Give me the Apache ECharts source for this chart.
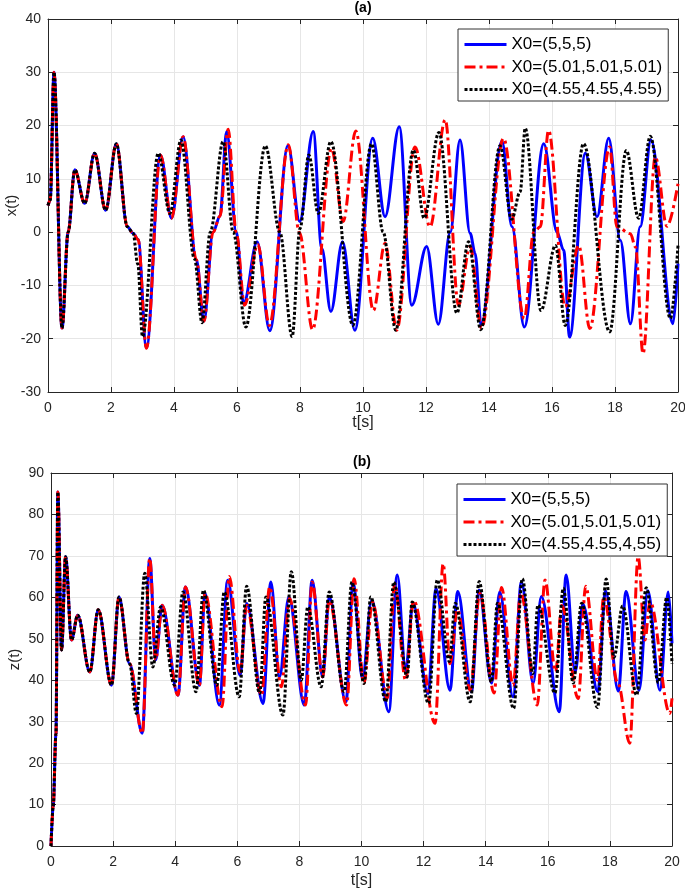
<!DOCTYPE html>
<html>
<head>
<meta charset="utf-8">
<script src="https://cdn.jsdelivr.net/npm/echarts@6/dist/echarts.min.js"></script>
<style>
  html, body { margin: 0; padding: 0; background: #fff; }
  #chart-container { width: 685px; height: 892px; }
</style>
</head>
<body>
<div id="chart-container"></div>
<script>
// tick labels / ranges
const tTicks = [0, 2, 4, 6, 8, 10, 12, 14, 16, 18, 20];
const xRange = [-30, 40];
const zRange = [0, 90];

const names = ["X0=(5,5,5)", "X0=(5.01,5.01,5.01)", "X0=(4.55,4.55,4.55)"];
const namesZ = ["X0=(5,5,5)", "X0=(5.01,5.01,5.01)", "X0=(4.55,4.55,4,55)"];

// (a) x(t) as [t, x]
const xCommon = [
  [0, 5], [0.07, 6], [0.19, 30], [0.445, -18], [0.64, 0], [0.85, 11.7],
  [1.165, 5.4], [1.48, 14.8], [1.83, 4.1], [2.17, 16.6], [2.52, 1], [2.7, -0.2],
];
const xBlue = xCommon.concat([
  [2.86, -1.4], [3.125, -21.7], [3.57, 14.5], [3.92, 2.6], [4.29, 17.9],
  [4.71, -5.2], [4.95, -16.7], [5.24, 0], [5.46, 3], [5.67, 18.9], [5.98, 0],
  [6.21, -13.4], [6.64, -1.8], [7.04, -18.5], [7.62, 16.2], [7.99, 2], [8.42, 18.9],
  [8.69, -3], [8.98, -14.9], [9.35, -1.8], [9.74, -18.4], [10.31, 17.6], [10.7, 2.9],
  [11.15, 19.8], [11.55, -13.7], [12.02, -2.7], [12.39, -17.3], [12.77, 0], [13.08, 17.3],
  [13.4, -0.2], [13.56, -4], [13.75, -17.5], [14.41, 17.1], [14.73, 1], [15.12, -17.8],
  [15.74, 16.6], [16.16, 0], [16.37, -3.4], [16.56, -19.7], [17.06, 14.8], [17.43, 2.9],
  [17.8, 17.6], [18.17, -1.5], [18.49, -17.2], [18.8, 1], [19.14, 17.3], [19.84, -17.2],
  [20, -5.9],
]);
const xRed = xCommon.concat([
  [2.86, -1.4], [3.125, -21.8], [3.57, 14.5], [3.92, 2.6], [4.29, 17.9],
  [4.71, -5.2], [4.95, -16.7], [5.24, 0], [5.46, 3], [5.72, 19.3], [5.98, -0.3],
  [6.24, -13.7], [6.66, -2.3], [7.03, -17.5], [7.63, 16.4], [7.98, 0], [8.4, -18.3],
  [9.0, 15.7], [9.37, 2], [9.77, 19], [10.33, -14.7], [10.7, -2.1], [11.07, -18.4],
  [11.65, 16], [12.13, 1], [12.61, 21.1], [13.03, -13.7], [13.4, -2.7], [13.76, -18],
  [14.46, 17.6], [15.12, -16.2], [15.42, 0], [15.63, 1], [15.89, 19.1], [16.42, -14],
  [16.85, -2.5], [17.2, -18.1], [17.83, 16], [18.06, 1], [18.49, -0.3], [18.65, -2.8],
  [18.89, -22.8], [19.28, 14.1], [19.65, 1.1], [20, 9.1],
]);
const xBlack = xCommon.concat([
  [2.85, -6], [3.0, -19.6], [3.5, 14.8], [3.87, 3.5], [4.22, 17.3], [4.65, -5],
  [4.89, -17], [5.15, 0], [5.56, 17], [5.88, 0], [6.28, -17.8], [6.9, 16.2],
  [7.36, 0], [7.75, -19.6], [8.0, 0.7], [8.28, 14.5], [8.58, 3.5], [8.98, 17],
  [9.68, -17.5], [10.27, 16.6], [10.64, 0], [11.04, -18.4], [11.6, 15.4], [11.94, 2.6],
  [12.41, 18.7], [12.98, -15.2], [13.35, -1.8], [13.74, -18.3], [14.35, 16.2], [14.72, 2.4],
  [14.99, 7.6], [15.15, 19.5], [15.65, -14.7], [16.11, -2.5], [16.42, -17.5], [17.0, 16.6],
  [17.83, -18.7], [18.36, 15.3], [18.75, 2.6], [19.12, 18], [19.76, -16.2], [20, -2.5],
]);

// (b) z(t) as [t, z]
const zCommon = [
  [0, 0], [0.07, 9.5], [0.16, 27], [0.22, 85.4], [0.34, 47.3], [0.47, 69.8],
  [0.66, 49.7], [0.86, 55.7], [1.25, 42], [1.52, 57], [1.95, 38.8], [2.19, 60.1],
  [2.53, 44],
];
const zBlue = zCommon.concat([
  [2.94, 27.2], [3.18, 69.4], [3.37, 44.9], [3.58, 58.1], [4.09, 36.4], [4.33, 62.5],
  [4.78, 38.8], [4.96, 60.9], [5.42, 34], [5.69, 64.1], [6.09, 41.2], [6.3, 58.5],
  [6.83, 34.4], [7.08, 63.7], [7.36, 40.8], [7.66, 60.1], [8.16, 34], [8.41, 64.1],
  [8.75, 40.8], [8.96, 60.1], [9.5, 34.8], [9.73, 63.7], [10.03, 40.4], [10.33, 59.3],
  [10.88, 32.4], [11.15, 65.4], [11.42, 42.4], [11.66, 58.5], [12.14, 36.8], [12.4, 62.1],
  [12.85, 37.6], [13.1, 61.4], [13.54, 37.2], [13.79, 61.7], [14.19, 39.3], [14.45, 61.3],
  [14.88, 36], [15.15, 63.7], [15.53, 39.3], [15.79, 60.2], [16.37, 32.4], [16.59, 65.4],
  [16.88, 42], [17.13, 58.4], [17.61, 37.2], [17.86, 61.5], [18.27, 37.4], [18.52, 61.4],
  [18.94, 37.6], [19.22, 61.6], [19.61, 37.6], [19.88, 61.3], [20, 48.9],
]);
const zRed = zCommon.concat([
  [2.94, 27.2], [3.18, 69.4], [3.37, 44.9], [3.58, 58.1], [4.09, 36.4], [4.33, 62.5],
  [4.78, 38.8], [4.96, 60.9], [5.51, 33.6], [5.74, 65], [6.09, 42], [6.3, 58.1],
  [6.78, 36.4], [7.04, 62.5], [7.42, 38.4], [7.68, 59.7], [8.2, 34], [8.41, 63.7],
  [8.75, 40.8], [8.96, 59.3], [9.52, 34], [9.76, 64.5], [10.08, 39.2], [10.35, 58.9],
  [10.83, 35.6], [11.07, 63.3], [11.42, 40], [11.68, 59.3], [12.37, 29.6], [12.63, 68.1],
  [12.85, 44], [13.09, 57], [13.5, 37.6], [13.81, 61], [14.27, 36.9], [14.51, 62.4],
  [14.88, 38.8], [15.13, 61], [15.66, 34], [15.91, 64.2], [16.25, 42], [16.45, 58],
  [16.98, 35.6], [17.22, 62.7], [17.6, 40], [17.8, 60.1], [18.26, 39.2], [18.64, 24.8],
  [18.91, 69.8], [19.13, 49.7], [19.29, 59], [19.93, 32], [20, 35.6],
]);
const zBlack = zCommon.concat([
  [2.75, 32], [3.02, 65.8], [3.28, 43.2], [3.53, 57.7], [3.98, 38.8], [4.25, 61.3],
  [4.67, 37.2], [4.91, 61.7], [5.34, 38.8], [5.58, 61.3], [6.06, 36], [6.3, 62.7],
  [6.72, 36.8], [6.92, 60.1], [7.47, 31.6], [7.74, 66.2], [8.06, 40], [8.27, 57.7],
  [8.7, 38.4], [8.96, 61.3], [9.44, 37.2], [9.69, 63.7], [10.08, 39.2], [10.3, 60.1],
  [10.78, 34.8], [11.04, 63.7], [11.47, 40.8], [11.63, 58.9], [12.16, 34.4], [12.44, 64.2],
  [12.83, 44.5], [13.02, 58.6], [13.5, 34.8], [13.79, 63.8], [14.18, 39.6], [14.38, 58.6],
  [14.9, 33.2], [15.18, 64.5], [15.52, 41.6], [15.68, 58.1], [16.23, 36.9], [16.5, 62.2],
  [16.82, 39.3], [17.09, 58.6], [17.6, 33.4], [17.88, 64.4], [18.13, 45.5], [18.41, 57.9],
  [18.86, 36.4], [19.17, 62.3], [19.56, 39.4], [19.83, 60], [20, 44],
]);

const FONT = "Liberation Sans";
const AXIS_COLOR = "#262626";
const GRID_COLOR = "#e6e6e6";

const lineStyles = [
  { color: "#0000ff", width: 3, type: "solid" },
  { color: "#ff0000", width: 3, type: [11, 4, 3, 4] },
  { color: "#000000", width: 3, type: [3, 2] },
];

const xAxisFor = (gridIndex, top, gap) => ({
  type: "value",
  gridIndex: gridIndex,
  position: top ? "top" : "bottom",
  min: 0,
  max: 20,
  interval: 2,
  name: top ? "" : "t[s]",
  nameLocation: "middle",
  nameGap: gap,
  nameMoveOverlap: false,
  nameTextStyle: { fontFamily: FONT, fontSize: 16, color: AXIS_COLOR },
  axisLine: { show: true, onZero: false, lineStyle: { color: AXIS_COLOR, width: 1 } },
  axisTick: { show: true, inside: true, length: 5, lineStyle: { color: AXIS_COLOR } },
  axisLabel: {
    show: !top,
    fontFamily: FONT,
    fontSize: 14,
    color: AXIS_COLOR,
    margin: 9,
    formatter: (v) => (tTicks.includes(v) ? String(v) : ""),
  },
  splitLine: { show: !top, lineStyle: { color: GRID_COLOR, width: 1 } },
});

const yAxisFor = (gridIndex, right, range, label) => ({
  type: "value",
  gridIndex: gridIndex,
  position: right ? "right" : "left",
  min: range[0],
  max: range[1],
  interval: 10,
  name: right ? "" : label,
  nameLocation: "middle",
  nameGap: 29,
  nameMoveOverlap: false,
  nameTextStyle: { fontFamily: FONT, fontSize: 15, color: AXIS_COLOR },
  axisLine: { show: true, onZero: false, lineStyle: { color: AXIS_COLOR, width: 1 } },
  axisTick: { show: true, inside: true, length: 5, lineStyle: { color: AXIS_COLOR } },
  axisLabel: { show: !right, fontFamily: FONT, fontSize: 14, color: AXIS_COLOR, margin: 7 },
  splitLine: { show: !right, lineStyle: { color: GRID_COLOR, width: 1 } },
});

const makeSeries = (data, i, name, gridIndex) => ({
  type: "line",
  name: name,
  xAxisIndex: gridIndex * 2,
  yAxisIndex: gridIndex * 2,
  data: data,
  symbol: "none",
  smooth: 0.35,
  smoothMonotone: "x",
  lineStyle: lineStyles[i],
  itemStyle: { color: lineStyles[i].color },
  z: 2 + i,
  animation: false,
});

const legendFor = (left, top, data) => ({
  orient: "vertical",
  left: left,
  top: top,
  data: data,
  itemWidth: 42,
  itemHeight: 17,
  itemGap: 5.5,
  padding: [7, 6, 3, 5],
  backgroundColor: "#fff",
  borderColor: "#333",
  borderWidth: 1,
  borderRadius: 0,
  selectedMode: false,
  itemStyle: { color: "rgba(0,0,0,0)", borderWidth: 0, opacity: 0 },
  lineStyle: { width: 3 },
  textStyle: { fontFamily: FONT, fontSize: 17, color: "#000" },
});

const option = {
  backgroundColor: "#fff",
  animation: false,
  title: [
    {
      text: "(a)",
      left: 363,
      top: 1,
      padding: 0,
      textAlign: "center",
      textStyle: { fontFamily: FONT, fontSize: 14, fontWeight: "bold", color: "#000" },
    },
    {
      text: "(b)",
      left: 362,
      top: 455,
      padding: 0,
      textAlign: "center",
      textStyle: { fontFamily: FONT, fontSize: 14, fontWeight: "bold", color: "#000" },
    },
  ],
  grid: [
    { left: 48, top: 19, width: 630, height: 373, outerBoundsMode: "none", containLabel: false },
    { left: 51, top: 473, width: 621, height: 373, outerBoundsMode: "none", containLabel: false },
  ],
  xAxis: [xAxisFor(0, false, 23), xAxisFor(0, true, 0), xAxisFor(1, false, 27), xAxisFor(1, true, 0)],
  yAxis: [
    yAxisFor(0, false, xRange, "x(t)"),
    yAxisFor(0, true, xRange, ""),
    yAxisFor(1, false, zRange, "z(t)"),
    yAxisFor(1, true, zRange, ""),
  ],
  legend: [legendFor(458, 29, names), legendFor(457, 484, namesZ)],
  series: [
    makeSeries(xBlue, 0, names[0], 0),
    makeSeries(xRed, 1, names[1], 0),
    makeSeries(xBlack, 2, names[2], 0),
    makeSeries(zBlue, 0, namesZ[0], 1),
    makeSeries(zRed, 1, namesZ[1], 1),
    makeSeries(zBlack, 2, namesZ[2], 1),
  ],
};

const paintChart = () => {
  let dom = document.getElementById("chart-container");
  let myChart = echarts.init(dom, null, { renderer: "canvas" });
  if (option && typeof option === "object") {
    myChart.setOption(option);
  }
  window.addEventListener("resize", () => myChart.resize());
};

paintChart();
</script>
</body>
</html>
